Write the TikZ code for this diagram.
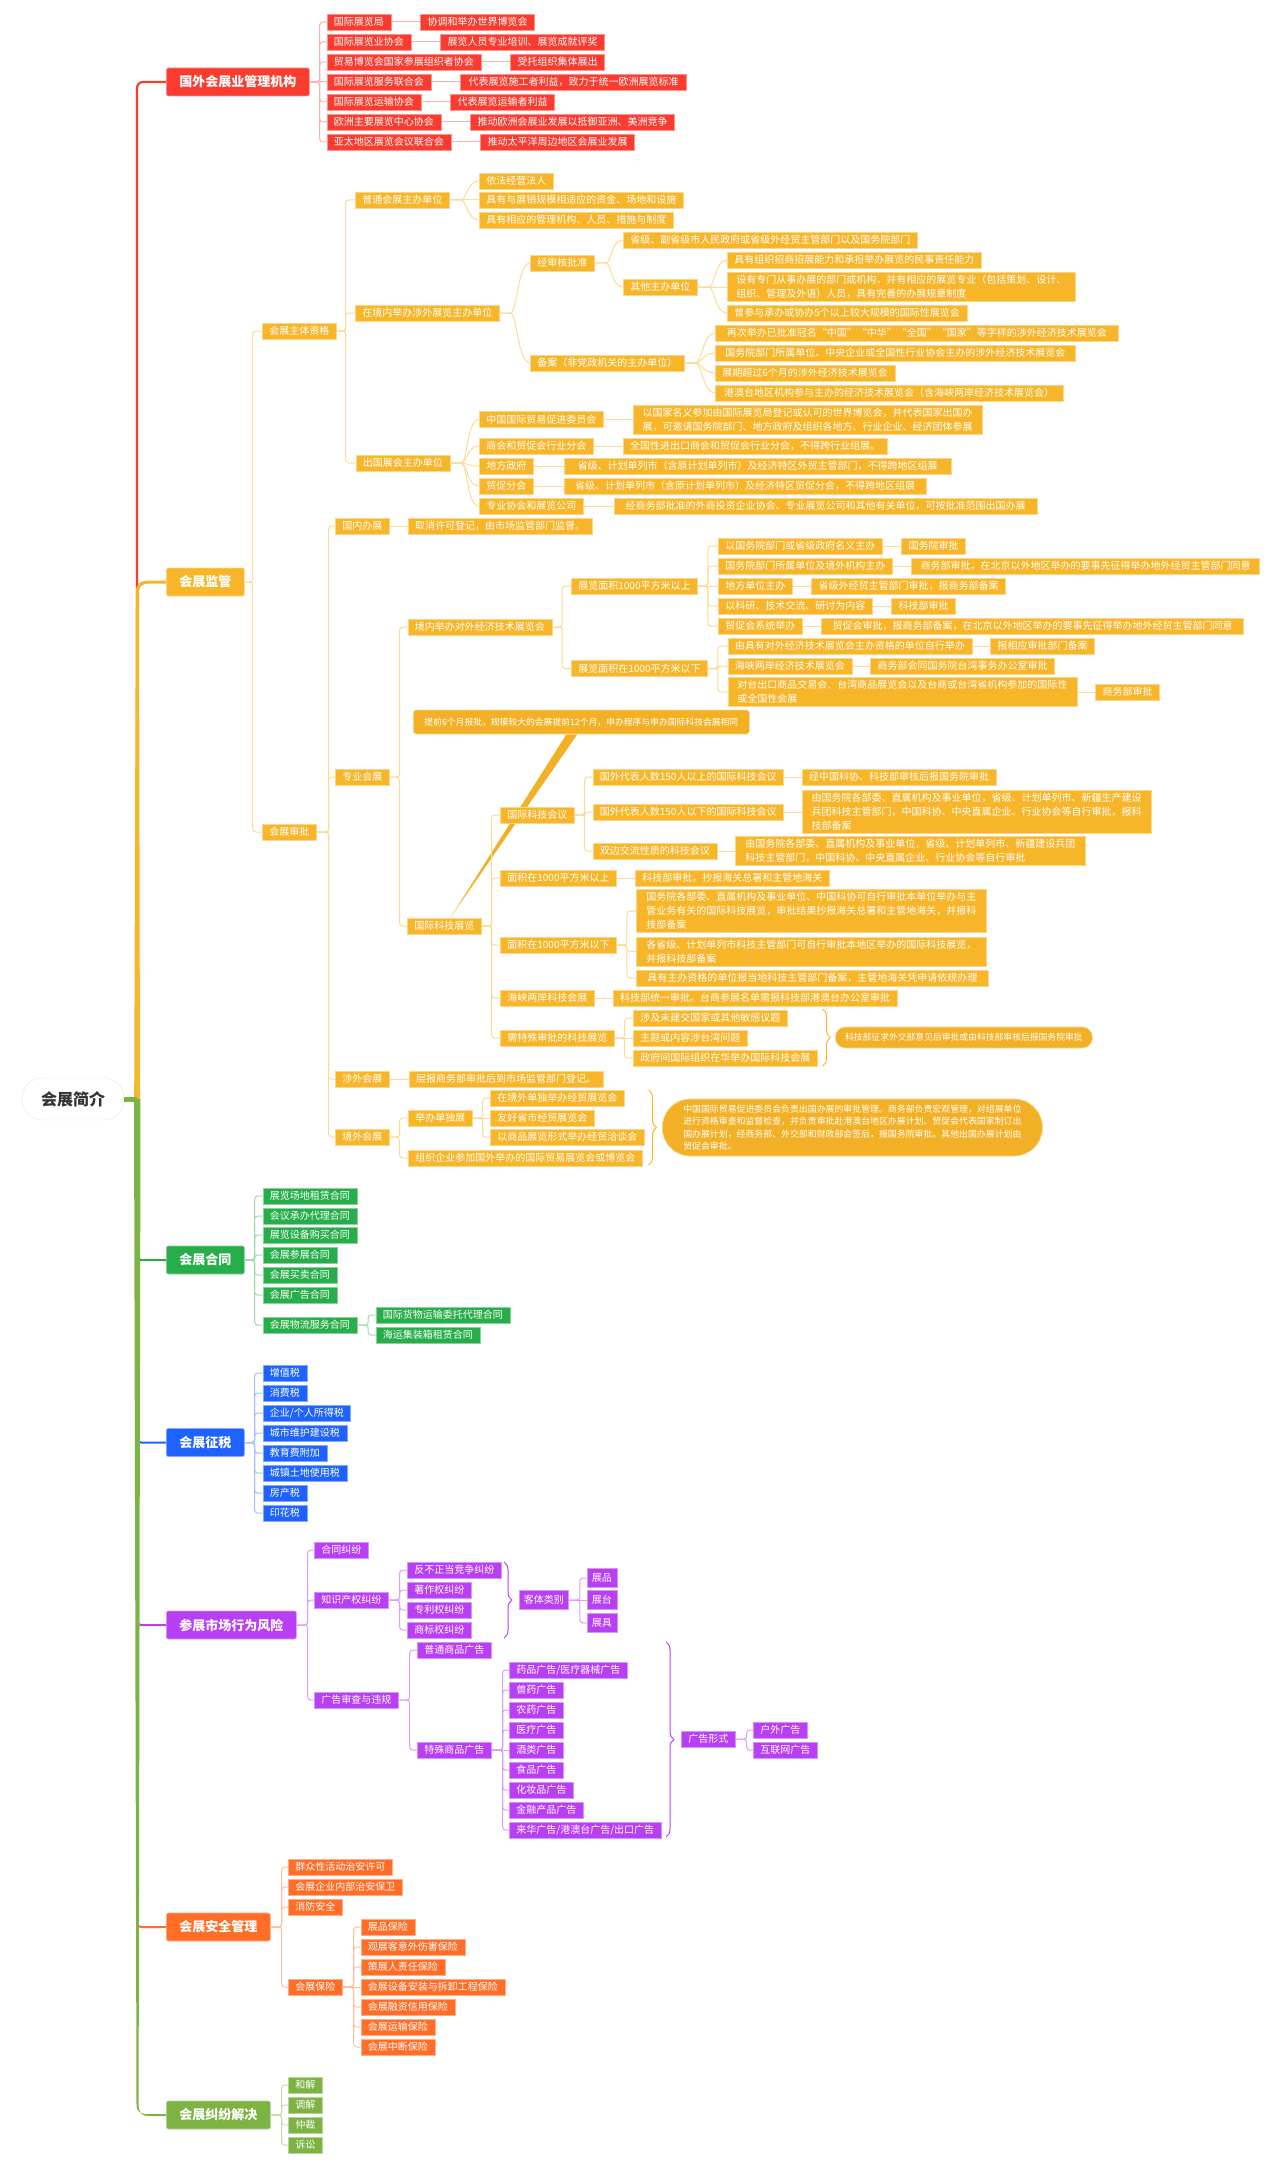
\documentclass[tikz,border=0pt]{standalone}
\usepackage{fontspec}
\setmainfont{Noto Sans CJK SC}
\usetikzlibrary{positioning,backgrounds,decorations.pathreplacing}
\definecolor{redmain}{HTML}{F93C2F}
\definecolor{ambermain}{HTML}{F7B52A}
\definecolor{notefill}{HTML}{F2B027}
\definecolor{greenmain}{HTML}{27AE4A}
\definecolor{bluemain}{HTML}{1E62FF}
\definecolor{purplemain}{HTML}{B83FF3}
\definecolor{orangemain}{HTML}{FF6D27}
\definecolor{olivemain}{HTML}{7DB343}
\tikzset{
  item/.style={anchor=west, inner xsep=7pt, inner ysep=0.5pt, minimum height=16pt, text=white, align=left, line width=0.7pt, font=\fontsize{10}{14}\selectfont},
  major/.style={anchor=west, inner xsep=13pt, inner ysep=0pt, minimum height=28pt, text=white, rounded corners=2pt, line width=0.7pt, font=\fontsize{13}{16}\selectfont\bfseries},
  redbox/.style={item, fill=redmain, draw=redmain!55!white},
  amberbox/.style={item, fill=ambermain, draw=ambermain!55!white},
  greenbox/.style={item, fill=greenmain, draw=greenmain!55!white},
  bluebox/.style={item, fill=bluemain, draw=bluemain!55!white},
  purplebox/.style={item, fill=purplemain, draw=purplemain!55!white},
  orangebox/.style={item, fill=orangemain, draw=orangemain!55!white},
  olivebox/.style={item, fill=olivemain, draw=olivemain!55!white},
  notebox/.style={anchor=west, fill=notefill, draw=ambermain!55!white, text=white, align=left, line width=0.7pt, inner ysep=0pt},
  redlink/.style={draw=redmain!40!white, line width=1pt, rounded corners=3pt},
  amberlink/.style={draw=ambermain!50!white, line width=1pt, rounded corners=3pt},
  greenlink/.style={draw=greenmain!45!white, line width=1pt, rounded corners=3pt},
  bluelink/.style={draw=bluemain!40!white, line width=1pt, rounded corners=3pt},
  purplelink/.style={draw=purplemain!50!white, line width=1pt, rounded corners=3pt},
  orangelink/.style={draw=orangemain!45!white, line width=1pt, rounded corners=3pt},
  olivelink/.style={draw=olivemain!45!white, line width=1pt, rounded corners=3pt},
  elbow/.style={to path={(\tikztostart.east) -- ++(#1,0) |- (\tikztotarget.west)}},
  sway/.style={to path={(\tikztostart.east) -- ++(8,0) .. controls +(9,0) and +(-12,0) .. (\tikztotarget.west)}},
  bracemark/.style={decorate, decoration={brace, amplitude=8pt}, line width=1pt},
}

\begin{document}
\begin{tikzpicture}[x=1pt, y=-1pt]
    \useasboundingbox (0,0) rectangle (1280,2167);

    % Central topic
    \node[draw=black!10, fill=white, rounded corners=20pt, minimum width=102pt, minimum height=42pt, anchor=west, text=black!80, font=\fontsize{16}{18}\selectfont\bfseries] (Root) at (22,1099) {会展简介};
    \coordinate (Hub) at (137,1099);

    % Foreign organisations
    \node[major, fill=redmain, draw=redmain!55!white] (Org) at (166,82) {国外会展业管理机构};
    \node[redbox] (Org1) at (326.5,22) {国际展览局};
    \node[redbox] (Org2) at (326.5,42) {国际展览业协会};
    \node[redbox] (Org3) at (326.5,62) {贸易博览会国家参展组织者协会};
    \node[redbox] (Org4) at (326.5,82) {国际展览服务联合会};
    \node[redbox] (Org5) at (326.5,102) {国际展览运输协会};
    \node[redbox] (Org6) at (326.5,122) {欧洲主要展览中心协会};
    \node[redbox] (Org7) at (326.5,142) {亚太地区展览会议联合会};
    \node[redbox, right=29pt of Org1] (Org1a) {协调和举办世界博览会};
    \node[redbox, right=29pt of Org2] (Org2a) {展览人员专业培训、展览成就评奖};
    \node[redbox, right=29pt of Org3] (Org3a) {受托组织集体展出};
    \node[redbox, minimum width=226pt, right=29pt of Org4] (Org4a) {代表展览施工者利益，致力于统一欧洲展览标准};
    \node[redbox, right=29pt of Org5] (Org5a) {代表展览运输者利益};
    \node[redbox, right=29pt of Org6] (Org6a) {推动欧洲会展业发展以抵御亚洲、美洲竞争};
    \node[redbox, right=29pt of Org7] (Org7a) {推动太平洋周边地区会展业发展};

    \draw[redlink] (Org) to[elbow=10] (Org1);
    \draw[redlink] (Org) to[elbow=10] (Org2);
    \draw[redlink] (Org) to[elbow=10] (Org3);
    \draw[redlink] (Org) -- (Org4);
    \draw[redlink] (Org) to[elbow=10] (Org5);
    \draw[redlink] (Org) to[elbow=10] (Org6);
    \draw[redlink] (Org) to[elbow=10] (Org7);
    \draw[redlink] (Org1) -- (Org1a);
    \draw[redlink] (Org2) -- (Org2a);
    \draw[redlink] (Org3) -- (Org3a);
    \draw[redlink] (Org4) -- (Org4a);
    \draw[redlink] (Org5) -- (Org5a);
    \draw[redlink] (Org6) -- (Org6a);
    \draw[redlink] (Org7) -- (Org7a);

    % Supervision: organiser qualification
    \node[major, fill=ambermain, draw=ambermain!55!white] (Sup) at (166,582) {会展监管};
    \node[amberbox] (Qual) at (262,331) {会展主体资格};
    \node[amberbox] (Ord) at (355,200) {普通会展主办单位};
    \node[amberbox] (Ord1) at (479,181) {依法经营法人};
    \node[amberbox] (Ord2) at (479,200) {具有与展销规模相适应的资金、场地和设施};
    \node[amberbox] (Ord3) at (479,220) {具有相应的管理机构、人员、措施与制度};
    \node[amberbox] (Dom) at (355,313) {在境内举办涉外展览主办单位};
    \node[amberbox] (Rev) at (530,263) {经审核批准};
    \node[amberbox] (Rev1) at (623,240) {省级、副省级市人民政府或省级外经贸主管部门以及国务院部门};
    \node[amberbox] (Rev2) at (623,287) {其他主办单位};
    \node[amberbox] (Rev2a) at (727,260) {具有组织招商招展能力和承担举办展览的民事责任能力};
    \node[amberbox, minimum width=348pt, minimum height=29pt] (Rev2b) at (727,287) {设有专门从事办展的部门或机构，并有相应的展览专业（包括策划、设计、\\组织、管理及外语）人员，具有完善的办展规章制度};
    \node[amberbox] (Rev2c) at (727,313) {曾参与承办或协办5个以上较大规模的国际性展览会};
    \node[amberbox] (Rec) at (530,363) {备案（非党政机关的主办单位）};
    \node[amberbox, minimum width=403pt] (Rec1) at (715,333) {再次举办已批准冠名“中国”“中华”“全国”“国家”等字样的涉外经济技术展览会};
    \node[amberbox, minimum width=360pt] (Rec2) at (715,353) {国务院部门所属单位、中央企业或全国性行业协会主办的涉外经济技术展览会};
    \node[amberbox] (Rec3) at (715,373) {展期超过6个月的涉外经济技术展览会};
    \node[amberbox, minimum width=347.5pt] (Rec4) at (715,393) {港澳台地区机构参与主办的经济技术展览会（含海峡两岸经济技术展览会）};
    \node[amberbox] (Out) at (355.5,463) {出国展会主办单位};
    \node[amberbox] (Out1) at (479,419.5) {中国国际贸易促进委员会};
    \node[amberbox] (Out2) at (479,446) {商会和贸促会行业分会};
    \node[amberbox] (Out3) at (479,466) {地方政府};
    \node[amberbox] (Out4) at (479,486) {贸促分会};
    \node[amberbox] (Out5) at (479,506) {专业协会和展览公司};
    \node[amberbox, minimum width=349pt, minimum height=29pt, right=29pt of Out1] (Out1a) {以国家名义参加由国际展览局登记或认可的世界博览会，并代表国家出国办\\展，可邀请国务院部门、地方政府及组织各地方、行业企业、经济团体参展};
    \node[amberbox, right=29pt of Out2] (Out2a) {全国性进出口商会和贸促会行业分会，不得跨行业组展。};
    \node[amberbox, minimum width=387pt, right=30pt of Out3] (Out3a) {省级、计划单列市（含原计划单列市）及经济特区外贸主管部门，不得跨地区组展};
    \node[amberbox, minimum width=362pt, right=30pt of Out4] (Out4a) {省级、计划单列市（含原计划单列市）及经济特区贸促分会，不得跨地区组展};
    \node[amberbox, minimum width=423pt, right=30pt of Out5] (Out5a) {经商务部批准的外商投资企业协会、专业展览公司和其他有关单位，可按批准范围出国办展};

    \draw[amberlink] (Sup) to[elbow=8] (Qual);
    \draw[amberlink] (Qual) to[elbow=9] (Ord);
    \draw[amberlink] (Qual) to[elbow=9] (Dom);
    \draw[amberlink] (Qual) to[elbow=9] (Out);
    \draw[amberlink] (Ord) to[sway] (Ord1);
    \draw[amberlink] (Ord) -- (Ord2);
    \draw[amberlink] (Ord) to[sway] (Ord3);
    \draw[amberlink] (Dom) to[sway] (Rev);
    \draw[amberlink] (Dom) to[sway] (Rec);
    \draw[amberlink] (Rev) to[sway] (Rev1);
    \draw[amberlink] (Rev) to[sway] (Rev2);
    \draw[amberlink] (Rev2) to[sway] (Rev2a);
    \draw[amberlink] (Rev2) -- (Rev2b);
    \draw[amberlink] (Rev2) to[sway] (Rev2c);
    \draw[amberlink] (Rec) to[sway] (Rec1);
    \draw[amberlink] (Rec) to[sway] (Rec2);
    \draw[amberlink] (Rec) to[sway] (Rec3);
    \draw[amberlink] (Rec) to[sway] (Rec4);
    \draw[amberlink] (Out) to[sway] (Out1);
    \draw[amberlink] (Out) to[sway] (Out2);
    \draw[amberlink] (Out) to[sway] (Out3);
    \draw[amberlink] (Out) to[sway] (Out4);
    \draw[amberlink] (Out) to[sway] (Out5);
    \draw[amberlink] (Out1) -- (Out1a);
    \draw[amberlink] (Out2) -- (Out2a);
    \draw[amberlink] (Out3) -- (Out3a);
    \draw[amberlink] (Out4) -- (Out4a);
    \draw[amberlink] (Out5) -- (Out5a);

    % Supervision: approval
    \node[amberbox] (Appr) at (262,832) {会展审批};
    \node[amberbox] (Home) at (335,526) {国内办展};
    \node[amberbox, right=18pt of Home] (Home1) {取消许可登记，由市场监管部门监督。};
    \node[amberbox] (Pro) at (335,777) {专业会展};
    \node[amberbox] (Tech) at (407.5,627) {境内举办对外经济技术展览会};
    \node[amberbox] (Big) at (571,586) {展览面积1000平方米以上};
    \node[amberbox] (Big1) at (718,546) {以国务院部门或省级政府名义主办};
    \node[amberbox] (Big2) at (718,566) {国务院部门所属单位及境外机构主办};
    \node[amberbox] (Big3) at (718,586) {地方单位主办};
    \node[amberbox] (Big4) at (718,606) {以科研、技术交流、研讨为内容};
    \node[amberbox] (Big5) at (718,626) {贸促会系统举办};
    \node[amberbox, right=18.5pt of Big1] (Big1a) {国务院审批};
    \node[amberbox, minimum width=348pt, right=18.5pt of Big2] (Big2a) {商务部审批，在北京以外地区举办的要事先征得举办地外经贸主管部门同意};
    \node[amberbox, right=18.5pt of Big3] (Big3a) {省级外经贸主管部门审批，报商务部备案};
    \node[amberbox, right=18.5pt of Big4] (Big4a) {科技部审批};
    \node[amberbox, minimum width=422pt, right=18.5pt of Big5] (Big5a) {贸促会审批，报商务部备案，在北京以外地区举办的要事先征得举办地外经贸主管部门同意};
    \node[amberbox] (Small) at (571,668.5) {展览面积在1000平方米以下};
    \node[amberbox] (Small1) at (727.5,646) {由具有对外经济技术展览会主办资格的单位自行举办};
    \node[amberbox] (Small2) at (727.5,666) {海峡两岸经济技术展览会};
    \node[amberbox, minimum width=349pt, minimum height=29pt] (Small3) at (727.5,692) {对台出口商品交易会、台湾商品展览会以及台商或台湾省机构参加的国际性\\或全国性会展};
    \node[amberbox, right=18pt of Small1] (Small1a) {报相应审批部门备案};
    \node[amberbox, right=18pt of Small2] (Small2a) {商务部会同国务院台湾事务办公室审批};
    \node[amberbox, right=18pt of Small3] (Small3a) {商务部审批};
    \node[notebox, minimum width=336pt, minimum height=24pt, rounded corners=3pt, font=\fontsize{8.8}{11}\selectfont] (Note) at (413,722) {提前6个月报批，规模较大的会展提前12个月，申办程序与申办国际科技会展相同};
    \node[amberbox] (Expo) at (407,926) {国际科技展览};
    \node[amberbox] (Conf) at (500,815) {国际科技会议};
    \node[amberbox] (Conf1) at (592.5,777) {国外代表人数150人以上的国际科技会议};
    \node[amberbox] (Conf2) at (592.5,812) {国外代表人数150人以下的国际科技会议};
    \node[amberbox] (Conf3) at (592.5,851) {双边交流性质的科技会议};
    \node[amberbox, right=18pt of Conf1] (Conf1a) {经中国科协、科技部审核后报国务院审批};
    \node[amberbox, minimum width=349pt, minimum height=43pt, right=18pt of Conf2] (Conf2a) {由国务院各部委、直属机构及事业单位，省级、计划单列市、新疆生产建设\\兵团科技主管部门，中国科协、中央直属企业、行业协会等自行审批，报科\\技部备案};
    \node[amberbox, minimum width=349.5pt, minimum height=29pt, right=18pt of Conf3] (Conf3a) {由国务院各部委、直属机构及事业单位，省级、计划单列市、新疆建设兵团\\科技主管部门，中国科协、中央直属企业、行业协会等自行审批};
    \node[amberbox] (Up) at (500,878) {面积在1000平方米以上};
    \node[amberbox, right=18pt of Up] (Up1) {科技部审批，抄报海关总署和主管地海关};
    \node[amberbox] (Low) at (500,945) {面积在1000平方米以下};
    \node[amberbox, minimum width=350pt, minimum height=43pt] (Low1) at (636,911) {国务院各部委、直属机构及事业单位、中国科协可自行审批本单位举办与主\\管业务有关的国际科技展览，审批结果抄报海关总署和主管地海关，并报科\\技部备案};
    \node[amberbox, minimum width=350pt, minimum height=29pt] (Low2) at (636,951.5) {各省级、计划单列市科技主管部门可自行审批本地区举办的国际科技展览，\\并报科技部备案};
    \node[amberbox, minimum width=352pt] (Low3) at (636,978) {具有主办资格的单位报当地科技主管部门备案，主管地海关凭申请依规办理};
    \node[amberbox] (Strait) at (500,998) {海峡两岸科技会展};
    \node[amberbox, right=18pt of Strait] (Strait1) {科技部统一审批。台商参展名单需报科技部港澳台办公室审批};
    \node[amberbox] (Spec) at (500,1038) {需特殊审批的科技展览};
    \node[amberbox] (Spec1) at (633,1018) {涉及未建交国家或其他敏感议题};
    \node[amberbox] (Spec2) at (633,1038) {主题或内容涉台湾问题};
    \node[amberbox] (Spec3) at (633,1058) {政府间国际组织在华举办国际科技会展};
    \node[notebox, minimum width=257pt, minimum height=21pt, rounded corners=10pt, font=\fontsize{8.8}{11}\selectfont] (SpecNote) at (835,1037.5) {科技部征求外交部意见后审批或由科技部审核后报国务院审批};
    \node[amberbox] (Fgn) at (335,1079) {涉外会展};
    \node[amberbox, right=19pt of Fgn] (Fgn1) {层报商务部审批后到市场监管部门登记。};
    \node[amberbox] (Abr) at (335,1137) {境外会展};
    \node[amberbox] (Solo) at (408,1118) {举办单独展};
    \node[amberbox] (Solo1) at (490,1098) {在境外单独举办经贸展览会};
    \node[amberbox] (Solo2) at (490,1118) {友好省市经贸展览会};
    \node[amberbox] (Solo3) at (490,1137) {以商品展览形式举办经贸洽谈会};
    \node[amberbox] (Abr2) at (408,1158) {组织企业参加国外举办的国际贸易展览会或博览会};
    \node[notebox, minimum width=380pt, minimum height=57pt, rounded corners=28pt, inner xsep=19pt, font=\fontsize{8.9}{12.3}\selectfont] (AbrNote) at (662,1127.5) {中国国际贸易促进委员会负责出国办展的审批管理。商务部负责宏观管理，对组展单位\\进行资格审查和监督检查，并负责审批赴港澳台地区办展计划。贸促会代表国家制订出\\国办展计划，经商务部、外交部和财政部会签后，报国务院审批。其他出国办展计划由\\贸促会审批。};

    \draw[amberlink] (Sup) to[elbow=8] (Appr);
    \draw[amberlink] (Appr) to[elbow=12] (Home);
    \draw[amberlink] (Appr) to[elbow=12] (Pro);
    \draw[amberlink] (Appr) to[elbow=12] (Fgn);
    \draw[amberlink] (Appr) to[elbow=12] (Abr);
    \draw[amberlink] (Home) -- (Home1);
    \draw[amberlink] (Pro) to[elbow=10] (Tech);
    \draw[amberlink] (Pro) to[elbow=10] (Expo);
    \draw[amberlink] (Tech) to[elbow=10] (Big);
    \draw[amberlink] (Tech) to[elbow=10] (Small);
    \draw[amberlink] (Big) to[elbow=10] (Big1);
    \draw[amberlink] (Big) to[elbow=10] (Big2);
    \draw[amberlink] (Big) -- (Big3);
    \draw[amberlink] (Big) to[elbow=10] (Big4);
    \draw[amberlink] (Big) to[elbow=10] (Big5);
    \draw[amberlink] (Big1) -- (Big1a);
    \draw[amberlink] (Big2) -- (Big2a);
    \draw[amberlink] (Big3) -- (Big3a);
    \draw[amberlink] (Big4) -- (Big4a);
    \draw[amberlink] (Big5) -- (Big5a);
    \draw[amberlink] (Small) to[elbow=10] (Small1);
    \draw[amberlink] (Small) to[elbow=10] (Small2);
    \draw[amberlink] (Small) to[elbow=10] (Small3);
    \draw[amberlink] (Small1) -- (Small1a);
    \draw[amberlink] (Small2) -- (Small2a);
    \draw[amberlink] (Small3) -- (Small3a);
    \draw[amberlink] (Expo) to[elbow=10] (Conf);
    \draw[amberlink] (Expo) to[elbow=10] (Up);
    \draw[amberlink] (Expo) to[elbow=10] (Low);
    \draw[amberlink] (Expo) to[elbow=10] (Strait);
    \draw[amberlink] (Expo) to[elbow=10] (Spec);
    \draw[amberlink] (Conf) to[elbow=10] (Conf1);
    \draw[amberlink] (Conf) to[elbow=10] (Conf2);
    \draw[amberlink] (Conf) to[elbow=10] (Conf3);
    \draw[amberlink] (Conf1) -- (Conf1a);
    \draw[amberlink] (Conf2) -- (Conf2a);
    \draw[amberlink] (Conf3) -- (Conf3a);
    \draw[amberlink] (Up) -- (Up1);
    \draw[amberlink] (Low) to[elbow=10] (Low1);
    \draw[amberlink] (Low) to[elbow=10] (Low2);
    \draw[amberlink] (Low) to[elbow=10] (Low3);
    \draw[amberlink] (Strait) -- (Strait1);
    \draw[amberlink] (Spec) to[elbow=10] (Spec1);
    \draw[amberlink] (Spec) -- (Spec2);
    \draw[amberlink] (Spec) to[elbow=10] (Spec3);
    \draw[amberlink] (Fgn) -- (Fgn1);
    \draw[amberlink] (Abr) to[elbow=10] (Solo);
    \draw[amberlink] (Abr) to[elbow=10] (Abr2);
    \draw[amberlink] (Solo) to[elbow=10] (Solo1);
    \draw[amberlink] (Solo) -- (Solo2);
    \draw[amberlink] (Solo) to[elbow=10] (Solo3);

    % Summary braces and the tapered callout band
    \coordinate (SpecTop) at (822.5,1009);
    \coordinate (SpecEnd) at (822.5,1066);
    \coordinate (AbrTop) at (648.5,1090);
    \coordinate (AbrEnd) at (648.5,1165);
    \draw[bracemark, ambermain] (SpecTop) -- (SpecEnd);
    \draw[bracemark, ambermain] (AbrTop) -- (AbrEnd);
    \begin{scope}[on background layer]
        \fill[notefill] ([xshift=-15pt]Note.south) -- ([xshift=-4pt]Note.south) -- ([xshift=6pt]Expo.north) -- cycle;
    \end{scope}

    % Contracts
    \node[major, fill=greenmain, draw=greenmain!55!white] (Con) at (166,1260) {会展合同};
    \node[greenbox] (Con1) at (262.5,1196) {展览场地租赁合同};
    \node[greenbox] (Con2) at (262.5,1216) {会议承办代理合同};
    \node[greenbox] (Con3) at (262.5,1235) {展览设备购买合同};
    \node[greenbox] (Con4) at (262.5,1255) {会展参展合同};
    \node[greenbox] (Con5) at (262.5,1275) {会展买卖合同};
    \node[greenbox] (Con6) at (262.5,1295) {会展广告合同};
    \node[greenbox] (Con7) at (262.5,1325) {会展物流服务合同};
    \node[greenbox] (Con7a) at (375.5,1315) {国际货物运输委托代理合同};
    \node[greenbox] (Con7b) at (375.5,1335) {海运集装箱租赁合同};

    \draw[greenlink] (Con) to[elbow=10] (Con1);
    \draw[greenlink] (Con) to[elbow=10] (Con2);
    \draw[greenlink] (Con) to[elbow=10] (Con3);
    \draw[greenlink] (Con) to[elbow=10] (Con4);
    \draw[greenlink] (Con) to[elbow=10] (Con5);
    \draw[greenlink] (Con) to[elbow=10] (Con6);
    \draw[greenlink] (Con) to[elbow=10] (Con7);
    \draw[greenlink] (Con7) to[elbow=11] (Con7a);
    \draw[greenlink] (Con7) to[elbow=11] (Con7b);

    % Taxes
    \node[major, fill=bluemain, draw=bluemain!55!white] (Tax) at (166,1442.5) {会展征税};
    \node[bluebox] (Tax1) at (262.5,1373) {增值税};
    \node[bluebox] (Tax2) at (262.5,1393) {消费税};
    \node[bluebox] (Tax3) at (262.5,1413) {企业/个人所得税};
    \node[bluebox] (Tax4) at (262.5,1433) {城市维护建设税};
    \node[bluebox] (Tax5) at (262.5,1453) {教育费附加};
    \node[bluebox] (Tax6) at (262.5,1473) {城镇土地使用税};
    \node[bluebox] (Tax7) at (262.5,1493) {房产税};
    \node[bluebox] (Tax8) at (262.5,1513) {印花税};

    \draw[bluelink] (Tax) to[elbow=10] (Tax1);
    \draw[bluelink] (Tax) to[elbow=10] (Tax2);
    \draw[bluelink] (Tax) to[elbow=10] (Tax3);
    \draw[bluelink] (Tax) to[elbow=10] (Tax4);
    \draw[bluelink] (Tax) to[elbow=10] (Tax5);
    \draw[bluelink] (Tax) to[elbow=10] (Tax6);
    \draw[bluelink] (Tax) to[elbow=10] (Tax7);
    \draw[bluelink] (Tax) to[elbow=10] (Tax8);

    % Market behaviour risk
    \node[major, fill=purplemain, draw=purplemain!55!white] (Risk) at (166,1625) {参展市场行为风险};
    \node[purplebox] (Risk1) at (314,1550) {合同纠纷};
    \node[purplebox] (Risk2) at (314,1600) {知识产权纠纷};
    \node[purplebox] (Ip1) at (407,1570) {反不正当竞争纠纷};
    \node[purplebox] (Ip2) at (407,1590) {著作权纠纷};
    \node[purplebox] (Ip3) at (407,1610) {专利权纠纷};
    \node[purplebox] (Ip4) at (407,1630) {商标权纠纷};
    \node[purplebox, inner xsep=4.6pt, minimum height=19pt] (Obj) at (519,1600) {客体类别};
    \node[purplebox, inner xsep=5pt, minimum height=19pt] (Obj1) at (586.5,1578) {展品};
    \node[purplebox, inner xsep=5pt, minimum height=19pt] (Obj2) at (586.5,1600) {展台};
    \node[purplebox, inner xsep=5pt, minimum height=19pt] (Obj3) at (586.5,1623) {展具};
    \node[purplebox] (Risk3) at (314,1700) {广告审查与违规};
    \node[purplebox] (Ad1) at (417,1650) {普通商品广告};
    \node[purplebox] (Ad2) at (417,1750) {特殊商品广告};
    \node[purplebox] (Sp1) at (509,1670) {药品广告/医疗器械广告};
    \node[purplebox] (Sp2) at (509,1690) {兽药广告};
    \node[purplebox] (Sp3) at (509,1710) {农药广告};
    \node[purplebox] (Sp4) at (509,1730) {医疗广告};
    \node[purplebox] (Sp5) at (509,1750) {酒类广告};
    \node[purplebox] (Sp6) at (509,1770) {食品广告};
    \node[purplebox] (Sp7) at (509,1790) {化妆品广告};
    \node[purplebox] (Sp8) at (509,1810) {金融产品广告};
    \node[purplebox] (Sp9) at (509,1830) {来华广告/港澳台广告/出口广告};
    \node[purplebox] (Form) at (681,1739) {广告形式};
    \node[purplebox] (Form1) at (753,1730) {户外广告};
    \node[purplebox] (Form2) at (753,1750) {互联网广告};

    \draw[purplelink] (Risk) to[elbow=11] (Risk1);
    \draw[purplelink] (Risk) to[elbow=11] (Risk2);
    \draw[purplelink] (Risk) to[elbow=11] (Risk3);
    \draw[purplelink] (Risk2) to[elbow=11] (Ip1);
    \draw[purplelink] (Risk2) to[elbow=11] (Ip2);
    \draw[purplelink] (Risk2) to[elbow=11] (Ip3);
    \draw[purplelink] (Risk2) to[elbow=11] (Ip4);
    \draw[purplelink] (Obj) to[elbow=11] (Obj1);
    \draw[purplelink] (Obj) -- (Obj2);
    \draw[purplelink] (Obj) to[elbow=11] (Obj3);
    \draw[purplelink] (Risk3) to[elbow=11] (Ad1);
    \draw[purplelink] (Risk3) to[elbow=11] (Ad2);
    \draw[purplelink] (Ad2) to[elbow=11] (Sp1);
    \draw[purplelink] (Ad2) to[elbow=11] (Sp2);
    \draw[purplelink] (Ad2) to[elbow=11] (Sp3);
    \draw[purplelink] (Ad2) to[elbow=11] (Sp4);
    \draw[purplelink] (Ad2) -- (Sp5);
    \draw[purplelink] (Ad2) to[elbow=11] (Sp6);
    \draw[purplelink] (Ad2) to[elbow=11] (Sp7);
    \draw[purplelink] (Ad2) to[elbow=11] (Sp8);
    \draw[purplelink] (Ad2) to[elbow=11] (Sp9);
    \draw[purplelink] (Form) to[elbow=11] (Form1);
    \draw[purplelink] (Form) to[elbow=11] (Form2);

    \coordinate (IpTop) at (504,1562);
    \coordinate (IpEnd) at (504,1638);
    \coordinate (SpTop) at (666,1642);
    \coordinate (SpEnd) at (666,1837);
    \draw[bracemark, purplemain] (IpTop) -- (IpEnd);
    \draw[bracemark, purplemain] (SpTop) -- (SpEnd);

    % Safety
    \node[major, fill=orangemain, draw=orangemain!55!white] (Safe) at (166,1927) {会展安全管理};
    \node[orangebox] (Safe1) at (288,1867) {群众性活动治安许可};
    \node[orangebox] (Safe2) at (288,1887) {会展企业内部治安保卫};
    \node[orangebox] (Safe3) at (288,1907) {消防安全};
    \node[orangebox] (Safe4) at (288,1987) {会展保险};
    \node[orangebox] (Ins1) at (360.5,1927) {展品保险};
    \node[orangebox] (Ins2) at (360.5,1947) {观展客意外伤害保险};
    \node[orangebox] (Ins3) at (360.5,1967) {策展人责任保险};
    \node[orangebox] (Ins4) at (360.5,1987) {会展设备安装与拆卸工程保险};
    \node[orangebox] (Ins5) at (360.5,2007) {会展融资信用保险};
    \node[orangebox] (Ins6) at (360.5,2027) {会展运输保险};
    \node[orangebox] (Ins7) at (360.5,2047) {会展中断保险};

    \draw[orangelink] (Safe) to[elbow=11] (Safe1);
    \draw[orangelink] (Safe) to[elbow=11] (Safe2);
    \draw[orangelink] (Safe) to[elbow=11] (Safe3);
    \draw[orangelink] (Safe) to[elbow=11] (Safe4);
    \draw[orangelink] (Safe4) to[elbow=11] (Ins1);
    \draw[orangelink] (Safe4) to[elbow=11] (Ins2);
    \draw[orangelink] (Safe4) to[elbow=11] (Ins3);
    \draw[orangelink] (Safe4) -- (Ins4);
    \draw[orangelink] (Safe4) to[elbow=11] (Ins5);
    \draw[orangelink] (Safe4) to[elbow=11] (Ins6);
    \draw[orangelink] (Safe4) to[elbow=11] (Ins7);

    % Dispute resolution
    \node[major, fill=olivemain, draw=olivemain!55!white] (Fix) at (166,2115) {会展纠纷解决};
    \node[olivebox] (Fix1) at (288,2085) {和解};
    \node[olivebox] (Fix2) at (288,2105) {调解};
    \node[olivebox] (Fix3) at (288,2125) {仲裁};
    \node[olivebox] (Fix4) at (288,2145) {诉讼};

    \draw[olivelink] (Fix) to[elbow=11] (Fix1);
    \draw[olivelink] (Fix) to[elbow=11] (Fix2);
    \draw[olivelink] (Fix) to[elbow=11] (Fix3);
    \draw[olivelink] (Fix) to[elbow=11] (Fix4);

    % Main branches from the central topic
    \draw[line width=2.2pt, redmain, rounded corners=6pt] (Hub) |- (Org.west);
    \draw[line width=2pt, greenmain, rounded corners=4pt] (Hub) |- (Con.west);
    \draw[line width=2pt, bluemain, rounded corners=4pt] (Hub) |- (Tax.west);
    \draw[line width=2pt, purplemain, rounded corners=4pt] (Hub) |- (Risk.west);
    \draw[line width=2pt, orangemain, rounded corners=4pt] (Hub) |- (Safe.west);
    \fill[ambermain] (134.2,1099) -- (135.8,592) .. controls (135.8,584) and (140,580.5) .. (150,580.5) -- ([yshift=1.5pt]Sup.west) -- ([yshift=-1.5pt]Sup.west) -- (150,583.5) .. controls (142,583.5) and (139,586) .. (139,592) -- (140,1099) -- cycle;
    \fill[olivemain] (134,1099) -- (136.5,2104) .. controls (136.5,2112) and (140,2114) .. (148,2114) -- ([yshift=1pt]Fix.west) -- ([yshift=-1pt]Fix.west) -- (148,2116) .. controls (142,2116) and (138.6,2113) .. (138.6,2104) -- (140.5,1099) -- cycle;
    \draw[line width=5pt, olivemain] (Root) -- (Hub);
\end{tikzpicture}
\end{document}
